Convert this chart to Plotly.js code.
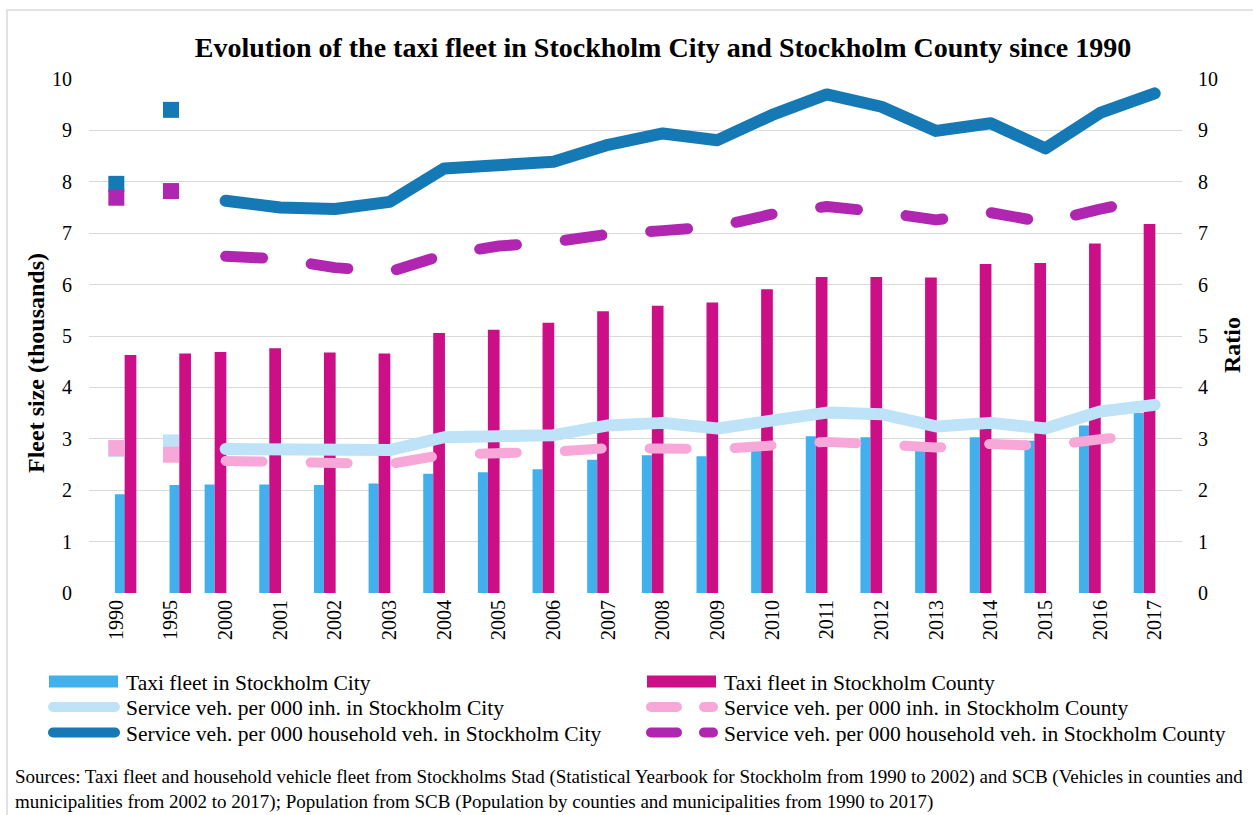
<!DOCTYPE html>
<html>
<head>
<meta charset="utf-8">
<script src="https://cdn.plot.ly/plotly-3.0.1.min.js"></script>
<style>
  html, body { margin: 0; padding: 0; background: #fff; }
  #chart { width: 1253px; height: 815px; }
  .scatterlayer .js-line, .legendlines path { stroke-linecap: round !important; stroke-linejoin: round !important; }
</style>
</head>
<body>
<div id="chart"></div>
<script>
// ---- data ----
const years = ['1990','1995','2000','2001','2002','2003','2004','2005','2006','2007','2008','2009','2010','2011','2012','2013','2014','2015','2016','2017'];
const taxiCity   = [1.92, 2.10, 2.11, 2.11, 2.10, 2.13, 2.32, 2.35, 2.41, 2.59, 2.68, 2.66, 2.80, 3.05, 3.03, 2.85, 3.03, 2.96, 3.26, 3.50];
const taxiCounty = [4.63, 4.66, 4.69, 4.76, 4.68, 4.66, 5.06, 5.12, 5.26, 5.48, 5.59, 5.65, 5.91, 6.15, 6.15, 6.14, 6.40, 6.42, 6.80, 7.18];
const inhCity    = [2.80, 2.93, 2.80, 2.78, 2.77, 2.78, 3.03, 3.04, 3.07, 3.26, 3.31, 3.20, 3.37, 3.51, 3.48, 3.24, 3.31, 3.20, 3.53, 3.66];
const inhCounty  = [2.82, 2.69, 2.57, 2.56, 2.52, 2.51, 2.69, 2.70, 2.75, 2.82, 2.82, 2.80, 2.87, 2.94, 2.89, 2.83, 2.90, 2.86, 2.99, 3.10];
const hhCity     = [7.96, 9.40, 7.63, 7.50, 7.47, 7.61, 8.26, 8.35, 8.39, 8.72, 8.94, 8.81, 9.30, 9.70, 9.46, 8.99, 9.14, 8.65, 9.34, 9.72];
const hhCounty   = [7.69, 7.82, 6.55, 6.50, 6.33, 6.25, 6.58, 6.75, 6.83, 6.98, 7.05, 7.13, 7.37, 7.52, 7.41, 7.26, 7.40, 7.21, 7.47, 7.68];
const yTicks = [0,1,2,3,4,5,6,7,8,9,10];

const names = {
  taxiCity: 'Taxi fleet in Stockholm City',
  taxiCounty: 'Taxi fleet in Stockholm County',
  inhCity: 'Service veh. per 000 inh. in Stockholm City',
  inhCounty: 'Service veh. per 000 inh. in Stockholm County',
  hhCity: 'Service veh. per 000 household veh. in Stockholm City',
  hhCounty: 'Service veh. per 000 household veh. in Stockholm County'
};

// ---- styles ----
const C = {
  taxiCity: '#41b0ec', taxiCounty: '#cc0e87',
  inhCity: '#bee2f7', inhCounty: '#f8a8d8',
  hhCity: '#1479b4', hhCounty: '#b026b0'
};
const FONT = 'Liberation Serif';
const isEarly = y => Number(y) < 2000;
const lateOnly = arr => arr.map((v, i) => isEarly(years[i]) ? null : v);
const earlyOnly = arr => arr.map((v, i) => isEarly(years[i]) ? v : null);

function barTrace(vals, name, color, legend, offLate, offEarly, width) {
  return {
    type: 'bar', x: years, y: vals, name: name, legend: legend,
    marker: { color: color, line: { width: 0 } },
    offset: years.map(y => isEarly(y) ? offEarly : offLate),
    width: years.map(() => width),
    yaxis: 'y', hoverinfo: 'x+y'
  };
}
function lineTrace(vals, name, color, legend, width, dash) {
  return {
    type: 'scatter', mode: 'lines', x: years, y: lateOnly(vals), name: name, legend: legend,
    line: { color: color, width: width, dash: dash || 'solid' },
    connectgaps: false, yaxis: 'y2'
  };
}
function earlyTrace(vals, color) {
  return {
    type: 'scatter', mode: 'markers', x: years, y: earlyOnly(vals), showlegend: false,
    marker: { symbol: 'square', size: 16, color: color, line: { width: 0 } },
    yaxis: 'y2'
  };
}

const traces = [
  barTrace(taxiCity, names.taxiCity, C.taxiCity, 'legend', -0.384, -0.026, 0.183),
  barTrace(taxiCounty, names.taxiCounty, C.taxiCounty, 'legend2', -0.201, 0.152, 0.214),
  lineTrace(inhCity, names.inhCity, C.inhCity, 'legend', 12),
  earlyTrace(inhCity, C.inhCity),
  lineTrace(inhCounty, names.inhCounty, C.inhCounty, 'legend2', 10, '37px,48px'),
  earlyTrace(inhCounty, C.inhCounty),
  lineTrace(hhCity, names.hhCity, C.hhCity, 'legend', 12),
  earlyTrace(hhCity, C.hhCity),
  lineTrace(hhCounty, names.hhCounty, C.hhCounty, 'legend2', 11, '37px,49px'),
  earlyTrace(hhCounty, C.hhCounty)
];

const W = 1253, H = 815;
const ml = 89, mr = 71, mt = 79, mb = 222;
const pw = W - ml - mr, ph = H - mt - mb;
const px = x => (x - ml) / pw;           // page x -> paper x
const py = y => (H - mb - y) / ph;       // page y -> paper y

const axisFont = { family: FONT, size: 20, color: '#000' };
const ITEMW = 70;
const legendCommon = {
  orientation: 'v', xanchor: 'left', yanchor: 'top',
  font: { family: FONT, size: 21.5, color: '#000' },
  bgcolor: 'rgba(0,0,0,0)', itemwidth: ITEMW, traceorder: 'normal'
};
const NB = n => '&nbsp;'.repeat(n);

const layout = {
  width: W, height: H,
  margin: { l: ml, r: mr, t: mt, b: mb },
  paper_bgcolor: '#fff', plot_bgcolor: '#fff',
  title: {
    text: 'Evolution of the taxi fleet in Stockholm City and Stockholm County since 1990',
    font: { family: FONT, size: 28, color: '#000', weight: 'bold' },
    xref: 'container', yref: 'container', x: 663 / W, xanchor: 'center', y: 1 - 47 / H, yanchor: 'middle'
  },
  barmode: 'overlay',
  xaxis: {
    type: 'category', categoryorder: 'array', categoryarray: years, range: [-0.5, years.length - 0.5],
    tickangle: -90, tickfont: axisFont, showgrid: false, showline: false, zeroline: false,
    ticks: '', ticklabelstandoff: 2
  },
  yaxis: {
    range: [0, 10], tickvals: yTicks, ticktext: yTicks.map(String), tickfont: axisFont,
    showgrid: true, gridcolor: '#d9d9d9', gridwidth: 1.3, zeroline: false, showline: false,
    ticks: '', ticklabelstandoff: 16,
    title: { text: 'Fleet size (thousands)' + NB(9), font: { family: FONT, size: 24, color: '#000', weight: 'bold' }, standoff: 0 }
  },
  yaxis2: {
    overlaying: 'y', side: 'right', range: [0, 10], tickvals: yTicks, ticktext: yTicks.map(String), tickfont: axisFont,
    showgrid: false, zeroline: false, showline: false, ticks: '', ticklabelstandoff: 15,
    title: { text: 'Ratio' + NB(3), font: { family: FONT, size: 24, color: '#000', weight: 'bold' }, standoff: 6 }
  },
  legend: Object.assign({}, legendCommon, { x: px(46), y: py(661) }),
  legend2: Object.assign({}, legendCommon, { x: px(644), y: py(661) }),
  annotations: [{
    xref: 'paper', yref: 'paper', x: px(13), y: py(764), xanchor: 'left', yanchor: 'top', align: 'left',
    showarrow: false,
    text: 'Sources: Taxi fleet and household vehicle fleet from Stockholms Stad (Statistical Yearbook for Stockholm from 1990 to 2002) and SCB (Vehicles in counties and<br>municipalities from 2002 to 2017); Population from SCB (Population by counties and municipalities from 1990 to 2017)',
    font: { family: FONT, size: 19, color: '#000' }
  }],
  shapes: [{
    type: 'rect', xref: 'paper', yref: 'paper', x0: px(7), x1: px(1270), y0: py(840), y1: py(10),
    line: { color: '#d9d9d9', width: 1.5 }, fillcolor: 'rgba(0,0,0,0)', layer: 'below'
  }],
  showlegend: true
};

const ROW = 25.5;
function fixLegend(gd) {
  // wide bar swatches like the line swatches
  gd.querySelectorAll('.legendpoints path').forEach(p => {
    p.setAttribute('d', 'M-37,6H32V-6H-37Z');
  });
  gd.querySelectorAll('.legendlines path').forEach(p => {
    p.setAttribute('d', 'M7,0h62');
    const da = p.style.strokeDasharray;
    if (da && da !== 'none' && da !== '') {
      p.style.setProperty('stroke-dasharray', '26px,27px', 'important');
    }
  });
  // tighter row spacing, for every legend box
  gd.querySelectorAll('g.legend, g.legend2').forEach(lg => {
    const items = lg.querySelectorAll('.traces');
    if (!items.length) return;
    const m0 = /translate\(\s*([-\d.]+)[ ,]+([-\d.]+)\)/.exec(items[0].getAttribute('transform') || '');
    if (!m0) return;
    const x0 = parseFloat(m0[1]), y0 = parseFloat(m0[2]);
    items.forEach((it, i) => it.setAttribute('transform', 'translate(' + x0 + ',' + (y0 + i * ROW) + ')'));
  });
}

const gd = document.getElementById('chart');
Plotly.newPlot(gd, traces, layout, { displayModeBar: false, responsive: false }).then(() => {
  fixLegend(gd);
  gd.on('plotly_afterplot', () => fixLegend(gd));
});
</script>
</body>
</html>
